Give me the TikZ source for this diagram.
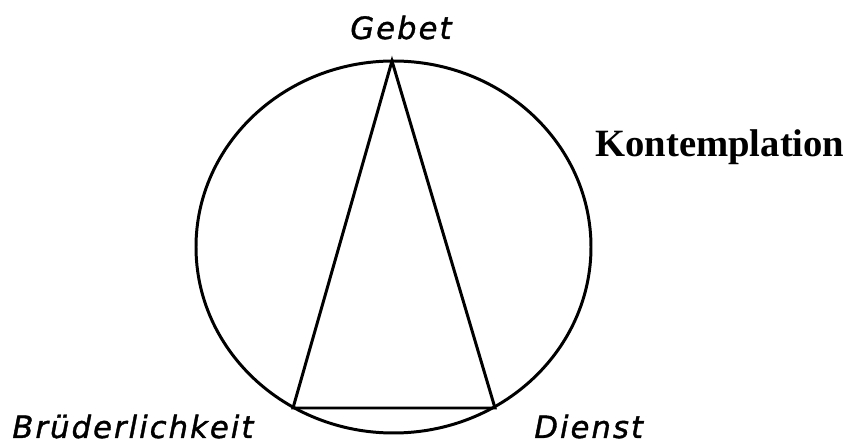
\documentclass[tikz,border=0pt]{standalone}
\usepackage{fontspec}
\setmainfont{Liberation Serif}
\newfontfamily\cornerfont[LetterSpace=6.5,FakeBold=1.2,ItalicFont={DejaVu Sans Oblique}]{DejaVu Sans}
\usetikzlibrary{positioning}
\tikzset{
  ring/.style={draw=black,line width=1.7pt},
  tri/.style={draw=black,line width=1.7pt,line join=miter},
  corner/.style={font=\cornerfont\itshape\fontsize{17.5}{20}\selectfont,inner sep=0pt},
  title/.style={font=\bfseries\fontsize{22}{26}\selectfont,inner sep=0pt},
}

\begin{document}
\begin{tikzpicture}[x=0.02cm,y=-0.02cm]
  \useasboundingbox (0,0) rectangle (850,445);
  \coordinate (top) at (392,61);
  \coordinate (bl) at (293,408);
  \coordinate (br) at (495,408);
  \draw[ring] (393.5,247) ellipse [x radius=197.5,y radius=186];
  \draw[tri] (top) -- (bl) -- (br) -- cycle;
  \node[corner,anchor=base west] (gebet) at (350,39) {Gebet};
  \node[corner,anchor=base west] (bruder) at (12,438) {Brüderlichkeit};
  \node[corner,anchor=base west] (dienst) at (534,438) {Dienst};
  \node[title,anchor=base west] (kontemp) at (595,157) {Kontemplation};
\end{tikzpicture}
\end{document}
